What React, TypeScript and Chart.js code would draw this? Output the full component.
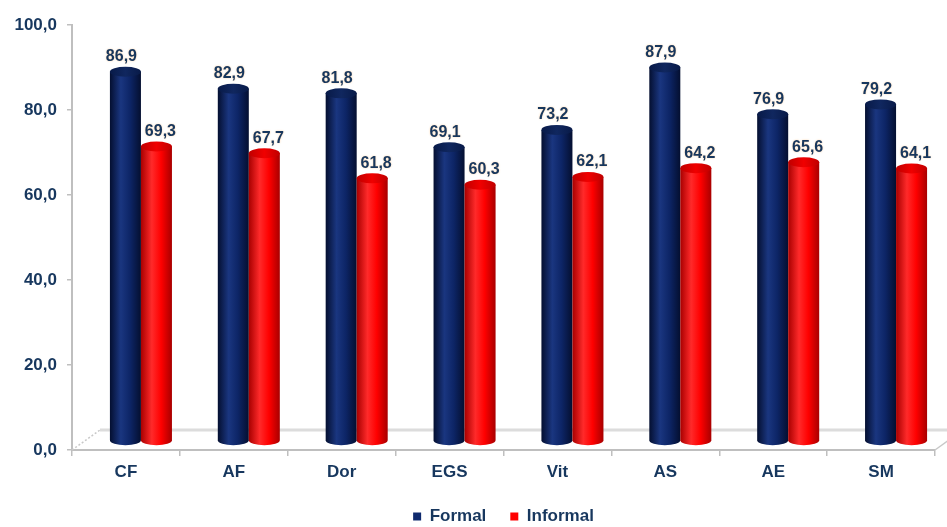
import { useEffect, useRef } from 'react';
import { Chart, registerables } from 'chart.js';

Chart.register(...registerables);

const categories = ['CF', 'AF', 'Dor', 'EGS', 'Vit', 'AS', 'AE', 'SM'];
const formalValues = [86.9, 82.9, 81.8, 69.1, 73.2, 87.9, 76.9, 79.2];
const informalValues = [69.3, 67.7, 61.8, 60.3, 62.1, 64.2, 65.6, 64.1];
const seriesNames = ['Formal', 'Informal'];
const yMin = 0;
const yMax = 100;
const yStep = 20;

const TEXT = '#17375E';
const FONT = "'Liberation Sans', Arial, sans-serif";
const DX = 15;
const DY = -9;
const RY = 5;

const fmt = (v: number) => v.toFixed(1).replace('.', ',');

const looks = [
  { edge: '#040f30', light: '#1a3680', mid: '#0d2566', top: '#10275f', topEdge: '#081a48', legend: '#0f2a6e' },
  { edge: '#a80000', light: '#ff2a2a', mid: '#ff0000', top: '#f00000', topEdge: '#c00000', legend: '#ff0000' },
];

const cylinderPlugin = {
  id: 'cylinders',
  beforeDatasetsDraw(chart: any) {
    const ctx = chart.ctx as CanvasRenderingContext2D;
    const area = chart.chartArea;
    const fdx = 28;
    const fdy = -20;
    ctx.save();
    // 3D floor
    ctx.strokeStyle = '#DCDCDC';
    ctx.lineWidth = 3;
    ctx.beginPath();
    ctx.moveTo(area.left + fdx, area.bottom + fdy);
    ctx.lineTo(area.right + fdx, area.bottom + fdy);
    ctx.stroke();
    ctx.lineWidth = 1.5;
    ctx.strokeStyle = '#C8C8C8';
    ctx.beginPath();
    ctx.moveTo(area.right, area.bottom);
    ctx.lineTo(area.right + fdx, area.bottom + fdy);
    ctx.stroke();
    ctx.setLineDash([2, 2]);
    ctx.beginPath();
    ctx.moveTo(area.left, area.bottom);
    ctx.lineTo(area.left + fdx, area.bottom + fdy);
    ctx.stroke();
    ctx.setLineDash([]);

    chart.data.datasets.forEach((ds: any, di: number) => {
      const meta = chart.getDatasetMeta(di);
      const lk = looks[di];
      meta.data.forEach((el: any, i: number) => {
        const w = el.width;
        const cx = el.x + DX;
        const top = el.y + DY;
        const bot = el.base + DY;
        const l = cx - w / 2;
        const r = cx + w / 2;
        const g = ctx.createLinearGradient(l, 0, r, 0);
        g.addColorStop(0, lk.edge);
        g.addColorStop(0.35, lk.light);
        g.addColorStop(0.65, lk.mid);
        g.addColorStop(1, lk.edge);
        ctx.fillStyle = g;
        ctx.beginPath();
        ctx.moveTo(l, top);
        ctx.lineTo(l, bot);
        ctx.ellipse(cx, bot, w / 2, RY, 0, Math.PI, 0, true);
        ctx.lineTo(r, top);
        ctx.closePath();
        ctx.fill();
        // top cap
        const tg = ctx.createLinearGradient(l, 0, r, 0);
        tg.addColorStop(0, lk.topEdge);
        tg.addColorStop(0.5, lk.top);
        tg.addColorStop(1, lk.topEdge);
        ctx.fillStyle = tg;
        ctx.beginPath();
        ctx.ellipse(cx, top, w / 2, RY, 0, 0, Math.PI * 2);
        ctx.fill();
        // value label
        ctx.font = `bold 16px ${FONT}`;
        ctx.textAlign = 'center';
        ctx.textBaseline = 'bottom';
        ctx.shadowColor = 'rgba(255, 190, 120, 0.7)';
        ctx.shadowBlur = 2;
        ctx.fillStyle = TEXT;
        ctx.fillText(fmt(ds.data[i]), cx + (di === 0 ? -4 : 4), top - RY - 2);
        ctx.shadowColor = 'transparent';
        ctx.shadowBlur = 0;
      });
    });
    ctx.restore();
    return false;
  },
};

export default function App() {
  const ref = useRef<HTMLCanvasElement>(null);
  useEffect(() => {
    if (!ref.current) return;
    const chart = new Chart(ref.current, {
      type: 'bar',
      data: {
        labels: categories,
        datasets: [
          { label: seriesNames[0], data: formalValues, backgroundColor: looks[0].legend, borderWidth: 0 },
          { label: seriesNames[1], data: informalValues, backgroundColor: looks[1].legend, borderWidth: 0 },
        ],
      },
      options: {
        animation: false,
        responsive: true,
        maintainAspectRatio: false,
        layout: { padding: { top: 25, right: 12, left: 0, bottom: 0 } },
        datasets: { bar: { categoryPercentage: 0.575, barPercentage: 1.0 } },
        plugins: {
          tooltip: { enabled: false },
          legend: {
            position: 'bottom',
            fullSize: false,
            maxHeight: 43,
            labels: {
              boxWidth: 8,
              boxHeight: 8,
              padding: 24,
              color: TEXT,
              font: { family: FONT, size: 17, weight: 'bold' },
            },
          },
        },
        scales: {
          x: {
            afterFit: (s: any) => { s.height = 34; },
            grid: { offset: true, drawOnChartArea: false, drawTicks: true, tickLength: 6, color: '#BFBFBF', lineWidth: 1.5 },
            border: { color: '#BFBFBF', width: 2 },
            ticks: { color: TEXT, font: { family: FONT, size: 17, weight: 'bold' }, padding: 6 },
          },
          y: {
            min: yMin,
            max: yMax,
            afterFit: (s: any) => { s.width = 72; },
            grid: { drawOnChartArea: false, drawTicks: true, tickLength: 5, color: '#BFBFBF', lineWidth: 1.5 },
            border: { color: '#BFBFBF', width: 2 },
            ticks: {
              stepSize: yStep,
              color: TEXT,
              padding: 10,
              font: { family: FONT, size: 17, weight: 'bold' },
              callback: (v: any) => fmt(Number(v)),
            },
          },
        },
      },
      plugins: [cylinderPlugin],
    } as any);
    return () => chart.destroy();
  }, []);
  return (
    <div style={{ position: 'fixed', left: 0, top: 0, width: 947, height: 527, background: '#fff' }}>
      <canvas ref={ref} />
    </div>
  );
}
